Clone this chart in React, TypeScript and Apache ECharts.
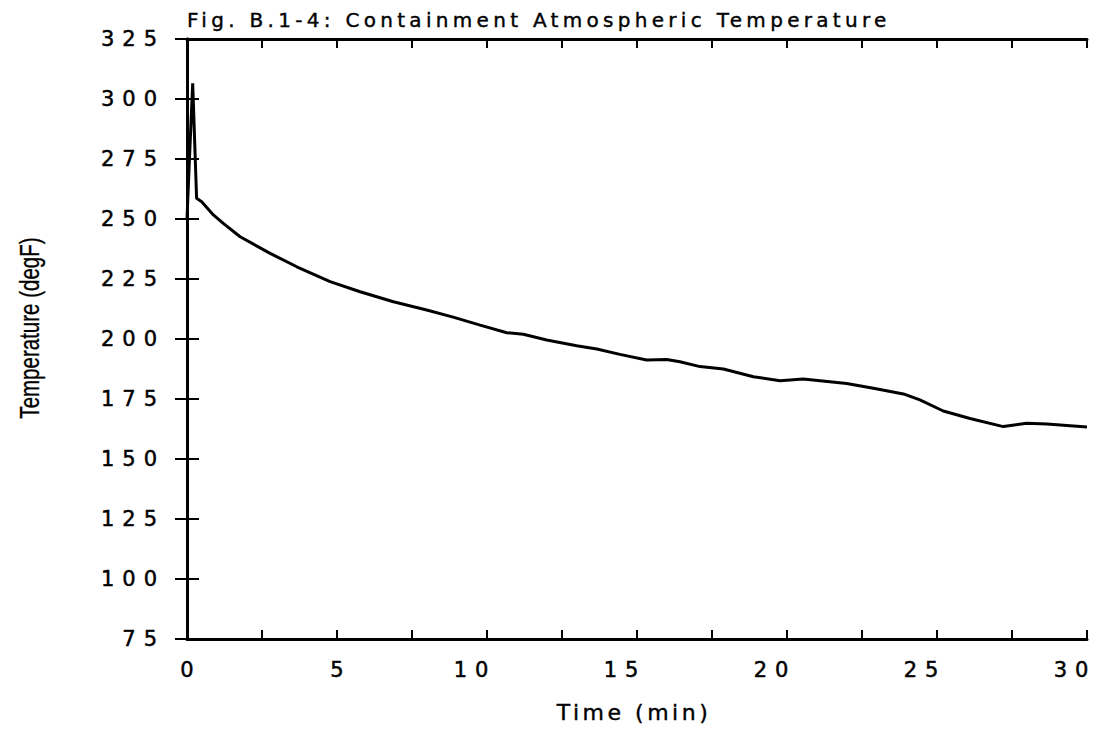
import React, { useEffect, useRef } from "react";
import * as echarts from "echarts";

const titleText = "Fig. B.1-4: Containment Atmospheric Temperature";
const xAxisName = "Time (min)";
const yAxisName = "Temperature (degF)";

const timeMin = [
  0, 0.08, 0.19, 0.32, 0.49, 0.88, 1.21, 1.77, 2.77, 3.66, 4.77, 5.77, 6.88, 7.99, 8.9,
  9.77, 10.66, 11.21, 11.99, 12.99, 13.66, 14.43, 15.32, 15.99, 16.43, 17.1, 17.88,
  18.88, 19.77, 20.54, 21.99, 22.88, 23.88, 24.43, 25.21, 26.1, 27.21, 27.99, 28.66, 30,
];
const tempF = [
  250, 274.6, 306.5, 258.6, 257.2, 251.7, 248.2, 242.6, 235.7, 230.1, 223.9, 219.7, 215.5, 212.1, 209,
  205.8, 202.6, 202.0, 199.6, 197.2, 195.8, 193.6, 191.25, 191.5, 190.5, 188.5, 187.5,
  184.3, 182.6, 183.3, 181.5, 179.5, 177.1, 174.6, 170.0, 166.9, 163.5, 164.9, 164.6, 163.3,
];

const xMin = 0, xMax = 30, xStep = 2.5, xLabelStep = 5;
const yMin = 75, yMax = 325, yStep = 25;

const TICK_FONT = "'DejaVu Sans', ticklbl";
const TITLE_FONT = "'DejaVu Sans', ttlfont";
const XNAME_FONT = "'DejaVu Sans', xnamefont";
const YNAME_FONT = "'Liberation Sans', Arial, sans-serif";

const inkStroke = { textBorderColor: "#000", textBorderWidth: 0.5 };

export default function App() {
  const ref = useRef<HTMLDivElement>(null);
  useEffect(() => {
    if (!ref.current) return;
    const chart = echarts.init(ref.current, null, { renderer: "svg" });
    const data = timeMin.map((t, i) => [t, tempF[i]]);
    const axisLine = { show: true, lineStyle: { color: "#000", width: 3 } };
    const tickLabelBase = { color: "#000", fontSize: 21, fontFamily: TICK_FONT, ...inkStroke };
    chart.setOption({
      animation: false,
      backgroundColor: "#fff",
      grid: { left: 187, right: 15, top: 39, bottom: 91, containLabel: false },
      xAxis: [
        {
          type: "value", min: xMin, max: xMax, interval: xStep, position: "bottom",
          axisLine, splitLine: { show: false },
          axisTick: { show: true, inside: true, length: 9, lineStyle: { color: "#000", width: 2 } },
          axisLabel: {
            show: true, margin: 20, ...tickLabelBase,
            formatter: (v: number) =>
              v % xLabelStep !== 0 ? "" : v < 10 ? `{s|${v}}` : `{d|${v}}`,
            rich: {
              s: { ...tickLabelBase, padding: [0, 0, 0, 8] },
              d: { ...tickLabelBase, padding: [0, 24, 0, 0] },
            },
          },
        },
        {
          type: "value", min: xMin, max: xMax, interval: xStep, position: "top",
          axisLine, splitLine: { show: false },
          axisTick: { show: true, inside: true, length: 9, lineStyle: { color: "#000", width: 2 } },
          axisLabel: { show: false },
        },
      ],
      yAxis: [
        {
          type: "value", min: yMin, max: yMax, interval: yStep, position: "left",
          axisLine, splitLine: { show: false },
          axisTick: { show: true, inside: true, length: 12, lineStyle: { color: "#000", width: 2 } },
          axisLabel: { show: true, margin: 22, ...tickLabelBase, padding: [0, 0, 5, 0] },
        },
        {
          type: "value", min: yMin, max: yMax, interval: yStep, position: "right",
          axisLine, splitLine: { show: false },
          axisTick: { show: true, inside: true, length: 12, lineStyle: { color: "#000", width: 2 } },
          axisLabel: { show: false },
        },
      ],
      graphic: [
        {
          type: "text", x: 187, y: 20,
          style: { text: titleText, fill: "#000", fontSize: 20, fontFamily: TITLE_FONT, align: "left", verticalAlign: "middle", stroke: "#000", lineWidth: 0.4 },
        },
        {
          type: "text", x: 634, y: 712,
          style: { text: xAxisName, fill: "#000", fontSize: 22, fontFamily: XNAME_FONT, align: "center", verticalAlign: "middle", stroke: "#000", lineWidth: 0.4 },
        },
        {
          type: "text", x: 29, y: 328, rotation: Math.PI / 2, scaleX: 0.76, scaleY: 1,
          style: { text: yAxisName, fill: "#000", fontSize: 27, fontFamily: YNAME_FONT, align: "center", verticalAlign: "middle", stroke: "#000", lineWidth: 0.3 },
        },
      ],
      series: [
        {
          type: "line", data, xAxisIndex: 0, yAxisIndex: 0,
          showSymbol: false, symbol: "none", smooth: false,
          lineStyle: { color: "#000", width: 3 },
        },
      ],
    });
    return () => chart.dispose();
  }, []);
  return (
    <>
      <style>{`
        text[style*="ticklbl"] { letter-spacing: 8px; }
        text[style*="ttlfont"] { letter-spacing: 4.3px; }
        text[style*="xnamefont"] { letter-spacing: 3.5px; }
      `}</style>
      <div ref={ref} style={{ position: "fixed", left: 0, top: 0, width: 1102, height: 730, background: "#fff" }} />
    </>
  );
}
